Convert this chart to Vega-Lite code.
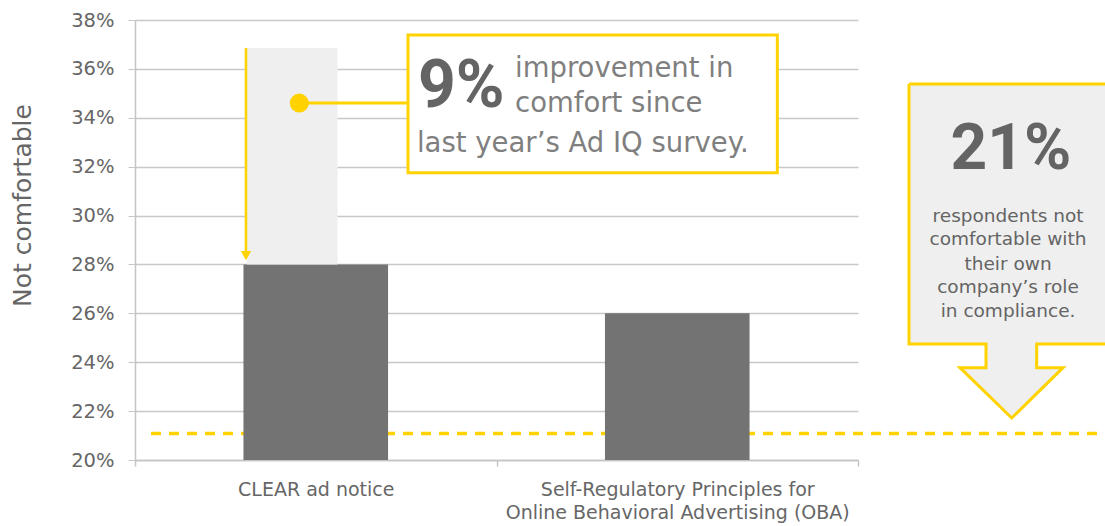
{
  "$schema": "https://vega.github.io/schema/vega-lite/v6.json",
  "width": 723,
  "height": 440,
  "autosize": {"type": "none"},
  "padding": {"left": 135, "top": 20, "right": 247, "bottom": 66},
  "background": "white",
  "config": {"view": {"stroke": null}, "font": "DejaVu Sans"},
  "resolve": {"scale": {"x": "independent"}},
  "encoding": {
    "y": {
      "field": "v",
      "type": "quantitative",
      "scale": {"domain": [20, 38], "nice": false, "zero": false},
      "axis": {
        "title": "Not comfortable",
        "values": [20, 22, 24, 26, 28, 30, 32, 34, 36, 38],
        "labelExpr": "datum.value + '%'",
        "labelFontSize": 19.5,
        "labelColor": "#666666",
        "labelPadding": 14,
        "tickSize": 7,
        "tickColor": "#c8c8c8",
        "domainColor": "#c4c4c4",
        "domainWidth": 1.5,
        "grid": true,
        "gridColor": "#c8c8c8",
        "gridWidth": 1.5,
        "titleFontSize": 25,
        "titleFontWeight": "normal",
        "titleColor": "#666666",
        "titlePadding": 35,
        "titleY": 185
      }
    }
  },
  "layer": [
    {
      "data": {"values": [{"u": 0.0443, "u2": 2.697, "v": 21.08}]},
      "mark": {"type": "rule", "stroke": "#ffd200", "strokeWidth": 3.5, "strokeDash": [10, 8], "clip": false},
      "encoding": {
        "x": {"field": "u", "type": "quantitative", "scale": {"domain": [0, 2], "nice": false, "zero": false}, "axis": null},
        "x2": {"field": "u2"}
      }
    },
    {
      "data": {"values": [
        {"category": "CLEAR ad notice", "v": 28},
        {"category": "Self-Regulatory Principles for Online Behavioral Advertising (OBA)", "v": 26}
      ]},
      "mark": {"type": "bar", "color": "#737373", "width": {"band": 0.4}},
      "encoding": {
        "x": {
          "field": "category",
          "type": "nominal",
          "sort": null,
          "scale": {"paddingInner": 0, "paddingOuter": 0},
          "axis": {
            "title": null,
            "labelAngle": 0,
            "labelFontSize": 19,
            "labelColor": "#666666",
            "labelPadding": 14,
            "labelLineHeight": 23,
            "labelLimit": 500,
            "labelExpr": "datum.value == 'CLEAR ad notice' ? 'CLEAR ad notice' : (datum.value == 'Self-Regulatory Principles for Online Behavioral Advertising (OBA)' ? ['Self-Regulatory Principles for', 'Online Behavioral  Advertising (OBA)'] : '')",
            "tickBand": "extent",
            "tickSize": 6,
            "tickColor": "#c4c4c4",
            "tickWidth": 1.5,
            "domainColor": "#c4c4c4",
            "domainWidth": 1.5
          }
        },
        "y2": {"datum": 20}
      }
    },
    {
      "data": {"values": [{"u": 0.3098, "u2": 0.5604, "v": 36.85, "v2": 28}]},
      "mark": {"type": "rect", "fill": "#efefef", "clip": false},
      "encoding": {
        "x": {"field": "u", "type": "quantitative", "scale": {"domain": [0, 2], "nice": false, "zero": false}, "axis": null},
        "x2": {"field": "u2"},
        "y2": {"field": "v2"}
      }
    },
    {
      "data": {"values": [{"u": 0.307, "v": 36.85, "v2": 28.5}]},
      "mark": {"type": "rule", "stroke": "#ffd200", "strokeWidth": 2.5, "clip": false},
      "encoding": {
        "x": {"field": "u", "type": "quantitative", "scale": {"domain": [0, 2], "nice": false, "zero": false}, "axis": null},
        "y2": {"field": "v2"}
      }
    },
    {
      "data": {"values": [{"u": 0.307, "v": 28.36}]},
      "mark": {"type": "point", "shape": "triangle-down", "size": 110, "filled": true, "fill": "#ffd200", "opacity": 1, "strokeWidth": 0, "clip": false},
      "encoding": {
        "x": {"field": "u", "type": "quantitative", "scale": {"domain": [0, 2], "nice": false, "zero": false}, "axis": null}
      }
    },
    {
      "data": {"values": [{"u": 0.4545, "u2": 0.7524, "v": 34.6}]},
      "mark": {"type": "rule", "stroke": "#ffd200", "strokeWidth": 3, "clip": false},
      "encoding": {
        "x": {"field": "u", "type": "quantitative", "scale": {"domain": [0, 2], "nice": false, "zero": false}, "axis": null},
        "x2": {"field": "u2"}
      }
    },
    {
      "data": {"values": [{"u": 0.4545, "v": 34.6}]},
      "mark": {"type": "circle", "size": 361, "fill": "#ffd200", "opacity": 1, "clip": false},
      "encoding": {
        "x": {"field": "u", "type": "quantitative", "scale": {"domain": [0, 2], "nice": false, "zero": false}, "axis": null}
      }
    },
    {
      "data": {"values": [{"u": 0.7552, "u2": 1.7768, "v": 37.39, "v2": 31.755}]},
      "mark": {"type": "rect", "fill": "white", "stroke": "#ffd200", "strokeWidth": 3, "clip": false},
      "encoding": {
        "x": {"field": "u", "type": "quantitative", "scale": {"domain": [0, 2], "nice": false, "zero": false}, "axis": null},
        "x2": {"field": "u2"},
        "y2": {"field": "v2"}
      }
    },
    {
      "data": {"values": [{"u": 0.7828, "v": 34.44, "t": "9%"}]},
      "mark": {"type": "text", "align": "left", "baseline": "alphabetic", "font": "Roboto", "fontSize": 66, "fontWeight": "bold", "fill": "#646464", "clip": false},
      "encoding": {
        "x": {"field": "u", "type": "quantitative", "scale": {"domain": [0, 2], "nice": false, "zero": false}, "axis": null},
        "text": {"field": "t"}
      }
    },
    {
      "data": {"values": [
        {"u": 1.0512, "v": 35.68, "t": "improvement in"},
        {"u": 1.0512, "v": 34.25, "t": "comfort since"},
        {"u": 0.78, "v": 32.61, "t": "last year’s  Ad IQ survey."}
      ]},
      "mark": {"type": "text", "align": "left", "baseline": "alphabetic", "fontSize": 27.5, "fill": "#7f7f7f", "clip": false},
      "encoding": {
        "x": {"field": "u", "type": "quantitative", "scale": {"domain": [0, 2], "nice": false, "zero": false}, "axis": null},
        "text": {"field": "t"}
      }
    },
    {
      "data": {"values": [
        {"i": 0, "u": 2.1411, "v": 35.385},
        {"i": 1, "u": 2.697, "v": 35.385},
        {"i": 2, "u": 2.697, "v": 24.746},
        {"i": 3, "u": 2.4943, "v": 24.746},
        {"i": 4, "u": 2.4943, "v": 23.777},
        {"i": 5, "u": 2.5671, "v": 23.777},
        {"i": 6, "u": 2.4252, "v": 21.718},
        {"i": 7, "u": 2.2822, "v": 23.777},
        {"i": 8, "u": 2.3541, "v": 23.777},
        {"i": 9, "u": 2.3541, "v": 24.746},
        {"i": 10, "u": 2.1411, "v": 24.746},
        {"i": 11, "u": 2.1411, "v": 35.385}
      ]},
      "mark": {"type": "line", "stroke": "#ffd200", "strokeWidth": 3, "fill": "#efefef", "strokeJoin": "miter", "clip": false},
      "encoding": {
        "x": {"field": "u", "type": "quantitative", "scale": {"domain": [0, 2], "nice": false, "zero": false}, "axis": null},
        "order": {"field": "i", "type": "quantitative"}
      }
    },
    {
      "data": {"values": [{"u": 2.4232, "v": 31.907, "t": "21%"}]},
      "mark": {"type": "text", "align": "center", "baseline": "alphabetic", "font": "Roboto", "fontSize": 64, "fontWeight": "bold", "fill": "#646464", "clip": false},
      "encoding": {
        "x": {"field": "u", "type": "quantitative", "scale": {"domain": [0, 2], "nice": false, "zero": false}, "axis": null},
        "text": {"field": "t"}
      }
    },
    {
      "data": {"values": [
        {"u": 2.415, "v": 29.75, "t": "respondents not"},
        {"u": 2.415, "v": 28.797, "t": "comfortable with"},
        {"u": 2.415, "v": 27.774, "t": "their own"},
        {"u": 2.415, "v": 26.833, "t": "company’s role"},
        {"u": 2.415, "v": 25.863, "t": "in compliance."}
      ]},
      "mark": {"type": "text", "align": "center", "baseline": "alphabetic", "fontSize": 18.5, "fill": "#646464", "clip": false},
      "encoding": {
        "x": {"field": "u", "type": "quantitative", "scale": {"domain": [0, 2], "nice": false, "zero": false}, "axis": null},
        "text": {"field": "t"}
      }
    }
  ]
}
